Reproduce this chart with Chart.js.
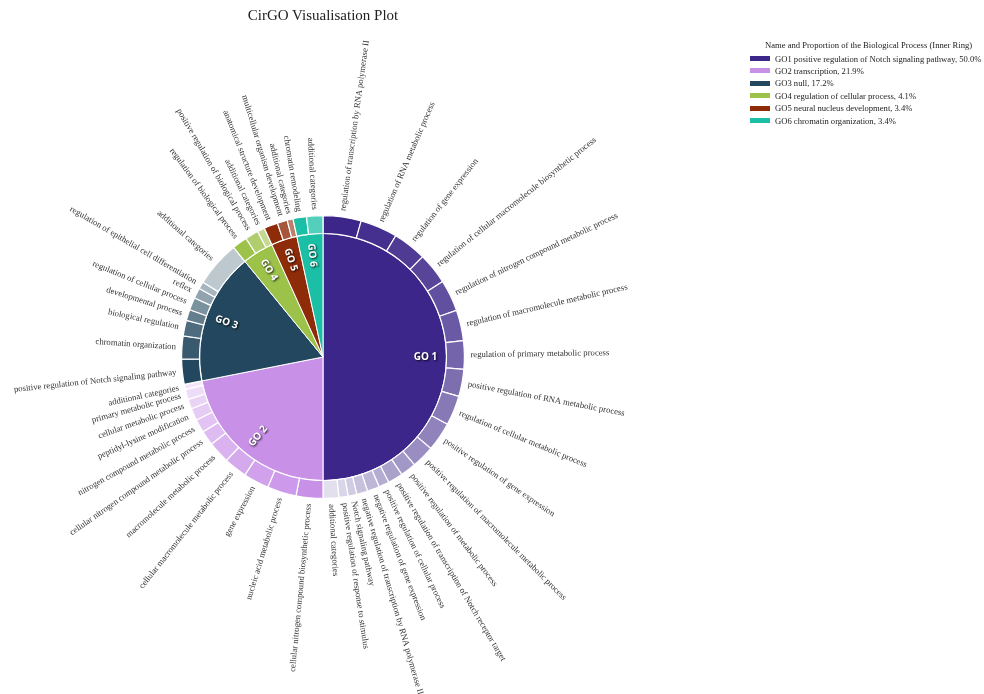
<!DOCTYPE html>
<html>
<head>
<meta charset="utf-8">
<title>CirGO Visualisation Plot</title>
<script src="https://cdn.jsdelivr.net/npm/chart.js@4.4.1/dist/chart.umd.min.js"></script>
<style>
  html, body { margin: 0; padding: 0; background: #fff; }
  #wrap { position: relative; width: 984px; height: 694px; }
  #plot { position: absolute; left: 0; top: 0; }
  #title { position: absolute; left: 0; top: 5px; width: 646px; text-align: center;
           font: 15px "Liberation Serif", serif; line-height: 20px; color: #222; }
  #legend { position: absolute; left: 750px; top: 39px; font: 8.6px "Liberation Serif", serif; color: #222; }
  #legend .head { padding-left: 15px; line-height: 12.4px; margin-bottom: 1px; white-space: nowrap; }
  #legend .row { display: flex; align-items: center; height: 12.4px; white-space: nowrap; }
  #legend .sw { width: 20px; height: 5px; margin-right: 5px; }
</style>
</head>
<body>
<div id="wrap">
  <canvas id="plot" width="984" height="694"></canvas>
  <div id="title">CirGO Visualisation Plot</div>
  <div id="legend"></div>
</div>
<script>
// inner ring: GO groups and their share (%)
const goNames  = ['positive regulation of Notch signaling pathway', 'transcription', 'null',
                  'regulation of cellular process', 'neural nucleus development', 'chromatin organization'];
const goShares = [50.0, 21.9, 17.2, 4.1, 3.4, 3.4];

// outer ring: child terms of each group (share of whole circle, %)
const go1Terms = ['regulation of transcription by RNA polymerase II', 'regulation of RNA metabolic process',
  'regulation of gene expression', 'regulation of cellular macromolecule biosynthetic process',
  'regulation of nitrogen compound metabolic process', 'regulation of macromolecule metabolic process',
  'regulation of primary metabolic process', 'positive regulation of RNA metabolic process',
  'regulation of cellular metabolic process', 'positive regulation of gene expression',
  'positive regulation of macromolecule metabolic process', 'positive regulation of metabolic process',
  'positive regulation of transcription of Notch receptor target', 'positive regulation of cellular process',
  'negative regulation of gene expression', 'negative regulation of transcription by RNA polymerase II',
  'Notch signaling pathway', 'positive regulation of response to stimulus', 'additional categories'];
const go1Values = [4.35, 4.25, 3.85, 3.6, 3.6, 3.5, 3.25, 3.1, 3.4, 3.3, 2.6, 1.8, 1.7, 1.2, 1.4, 1.25, 1.0, 1.05, 1.8];

const go2Terms = ['cellular nitrogen compound biosynthetic process', 'nucleic acid metabolic process',
  'gene expression', 'cellular macromolecule metabolic process', 'macromolecule metabolic process',
  'cellular nitrogen compound metabolic process', 'nitrogen compound metabolic process',
  'peptidyl-lysine modification', 'cellular metabolic process', 'primary metabolic process',
  'additional categories'];
const go2Values = [3.06, 3.33, 2.92, 2.64, 2.5, 1.67, 1.53, 1.39, 1.11, 1.17, 0.58];

const go3Terms = ['positive regulation of Notch signaling pathway', 'chromatin organization',
  'biological regulation', 'developmental process', 'regulation of cellular process', 'reflex',
  'regulation of epithelial cell differentiation', 'additional categories'];
const go3Values = [2.85, 2.64, 1.78, 1.25, 1.44, 1.19, 0.83, 5.22];

const go4Terms = ['regulation of biological process', 'positive regulation of biological process', 'additional categories'];
const go4Values = [1.73, 1.53, 0.84];

const go5Terms = ['anatomical structure development', 'multicellular organism development', 'additional categories'];
const go5Values = [1.58, 1.14, 0.68];

const go6Terms = ['chromatin remodeling', 'additional categories'];
const go6Values = [1.54, 1.86];

const goPalette = ['#3c2689', '#c990e8', '#22475e', '#9dc24a', '#8e2c0a', '#1abfa6'];

const groupTerms  = [go1Terms, go2Terms, go3Terms, go4Terms, go5Terms, go6Terms];
const groupValues = [go1Values, go2Values, go3Values, go4Values, go5Values, go6Values];

// lighten a hex colour towards white
function tint(hex, t) {
  const n = parseInt(hex.slice(1), 16);
  const r = n >> 16, g = (n >> 8) & 255, b = n & 255;
  const m = c => Math.round(c + (255 - c) * t);
  return 'rgb(' + m(r) + ',' + m(g) + ',' + m(b) + ')';
}

const termLabels = groupTerms.flat();
const termValues = groupValues.flat();
const termColors = [];
groupTerms.forEach((terms, g) => {
  terms.forEach((t, i) => termColors.push(tint(goPalette[g], i / (terms.length + 2))));
});

// legend
var lg = '<div class="head">Name and Proportion of the Biological Process (Inner Ring)</div>';
goNames.forEach(function(name, i) {
  lg += `<div class="row"><span class="sw" style="background:${goPalette[i]}"></span>GO${i + 1} ${name}, ${goShares[i].toFixed(1)}%</div>`;
});
document.getElementById('legend').innerHTML = lg;

// radial term labels around the ring + GO tags inside the pie
const ringLabels = {
  id: 'ringLabels',
  afterDatasetsDraw(chart) {
    const ctx = chart.ctx;
    ctx.save();
    ctx.font = '8.7px "Liberation Serif"';
    ctx.fillStyle = '#333';
    ctx.textBaseline = 'middle';
    chart.getDatasetMeta(0).data.forEach((arc, i) => {
      const p = arc.getProps(['x', 'y', 'startAngle', 'endAngle', 'outerRadius'], true);
      const mid = (p.startAngle + p.endAngle) / 2;
      const r = p.outerRadius + 6;
      ctx.save();
      ctx.translate(p.x, p.y);
      ctx.rotate(mid);
      if (Math.cos(mid) >= 0) {
        ctx.textAlign = 'left';
        ctx.fillText(termLabels[i], r, 0);
      } else {
        ctx.rotate(Math.PI);
        ctx.textAlign = 'right';
        ctx.fillText(termLabels[i], -r, 0);
      }
      ctx.restore();
    });

    ctx.font = 'bold 10px "Open Sans"';
    ctx.textAlign = 'center';
    chart.getDatasetMeta(1).data.forEach((arc, i) => {
      const p = arc.getProps(['x', 'y', 'startAngle', 'endAngle', 'outerRadius'], true);
      const mid = (p.startAngle + p.endAngle) / 2;
      const r = p.outerRadius - 21;
      ctx.save();
      ctx.translate(p.x + Math.cos(mid) * r, p.y + Math.sin(mid) * r);
      ctx.rotate(Math.cos(mid) >= 0 ? mid : mid + Math.PI);
      ctx.shadowColor = 'rgba(0,0,0,0.85)';
      ctx.shadowBlur = 2;
      ctx.shadowOffsetX = 1;
      ctx.shadowOffsetY = 1;
      ctx.fillStyle = '#fff';
      ctx.fillText('GO ' + (i + 1), 0, 0);
      ctx.restore();
    });
    ctx.restore();
  }
};

new Chart(document.getElementById('plot'), {
  type: 'doughnut',
  data: {
    labels: termLabels,
    datasets: [
      { data: termValues, backgroundColor: termColors, borderColor: '#fff', borderWidth: 1.2, weight: 18, hoverOffset: 0 },
      { data: goShares, backgroundColor: goPalette, borderColor: '#fff', borderWidth: 1, weight: 124, hoverOffset: 0 }
    ]
  },
  options: {
    responsive: false,
    animation: false,
    cutout: 0,
    layout: { padding: { left: 181, top: 215, right: 519, bottom: 195 } },
    plugins: { legend: { display: false }, tooltip: { enabled: false } }
  },
  plugins: [ringLabels]
});
</script>
</body>
</html>
